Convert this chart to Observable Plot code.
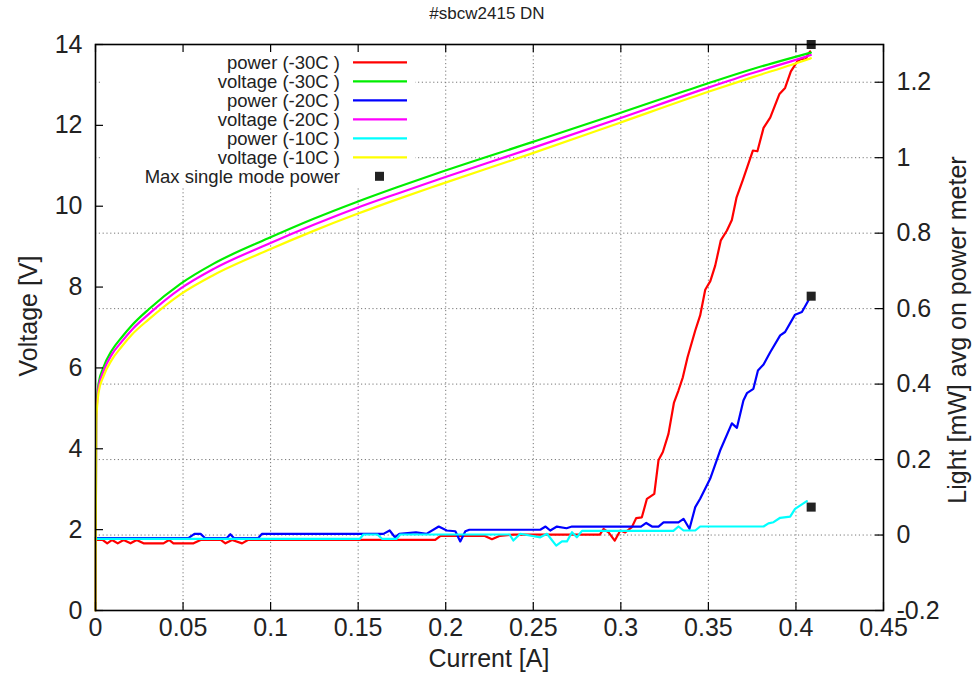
<!DOCTYPE html>
<html>
<head>
<meta charset="utf-8">
<script src="https://cdn.jsdelivr.net/npm/d3@7"></script>
<script src="https://cdn.jsdelivr.net/npm/@observablehq/plot@0.6"></script>
<style>
  html, body { margin: 0; padding: 0; background: white; overflow: hidden; }
</style>
</head>
<body>
<div id="chart"></div>
<script>
// ---------- data ----------
const title = "#sbcw2415 DN";
const xLabel = "Current [A]";
const yLabel = "Voltage [V]";
const y2Label = "Light [mW] avg on power meter";

const xTicks = [0, 0.05, 0.1, 0.15, 0.2, 0.25, 0.3, 0.35, 0.4, 0.45];
const vTicks = [0, 2, 4, 6, 8, 10, 12, 14];
const pTicks = [-0.2, 0, 0.2, 0.4, 0.6, 0.8, 1, 1.2];
const pDomain = [-0.2, 1.3];

// current [A] where the voltages were read
const currentV = [0, 0.0004, 0.001, 0.0017, 0.0046, 0.0093, 0.015, 0.0207, 0.0304, 0.0485, 0.0675, 0.0983, 0.1246, 0.1488, 0.1722, 0.1969, 0.2489, 0.2991, 0.3491, 0.3758, 0.3976, 0.4085];
const voltage30 = [0, 4.8, 5.3, 5.6, 6.02, 6.43, 6.76, 7.05, 7.45, 8.08, 8.58, 9.2, 9.69, 10.1, 10.47, 10.84, 11.58, 12.3, 13.03, 13.4, 13.67, 13.8];
const voltage20 = [0, 4.7, 5.2, 5.5, 5.92, 6.33, 6.65, 6.94, 7.33, 7.96, 8.45, 9.06, 9.54, 9.95, 10.31, 10.68, 11.43, 12.17, 12.92, 13.3, 13.59, 13.74];
const voltage10 = [0, 4.6, 5.1, 5.38, 5.8, 6.2, 6.53, 6.82, 7.2, 7.82, 8.3, 8.91, 9.39, 9.8, 10.17, 10.54, 11.3, 12.06, 12.82, 13.2, 13.5, 13.66];

// [current A, light mW]
const power30 = [[0,-0.013],[0.004,-0.013],[0.0067,-0.022],[0.0095,-0.013],[0.0127,-0.022],[0.016,-0.013],[0.02,-0.022],[0.0235,-0.013],[0.0274,-0.022],[0.0388,-0.022],[0.042,-0.013],[0.0445,-0.022],[0.056,-0.022],[0.06,-0.013],[0.0715,-0.013],[0.0742,-0.022],[0.078,-0.013],[0.0837,-0.022],[0.087,-0.013],[0.194,-0.013],[0.197,-0.002],[0.222,-0.002],[0.2264,-0.011],[0.231,-0.002],[0.2386,0.001],[0.288,0.001],[0.2901,0.016],[0.293,0.007],[0.2965,-0.015],[0.2997,0.012],[0.3025,0.007],[0.3063,0.021],[0.3088,0.045],[0.312,0.047],[0.3149,0.096],[0.3191,0.109],[0.3215,0.198],[0.324,0.22],[0.3272,0.268],[0.3303,0.35],[0.3329,0.383],[0.3354,0.418],[0.3381,0.471],[0.3425,0.542],[0.3453,0.582],[0.3482,0.65],[0.3511,0.673],[0.3539,0.714],[0.3571,0.781],[0.3606,0.807],[0.3634,0.835],[0.3661,0.895],[0.3697,0.941],[0.3754,1.019],[0.378,1.017],[0.3815,1.079],[0.3853,1.106],[0.3906,1.169],[0.3938,1.185],[0.3971,1.229],[0.4009,1.256],[0.4034,1.263],[0.4053,1.259],[0.4071,1.275],[0.4081,1.282]];
const power20 = [[0,-0.008],[0.053,-0.008],[0.0565,0.003],[0.06,0.003],[0.0625,-0.008],[0.075,-0.008],[0.077,0.002],[0.079,-0.008],[0.093,-0.008],[0.095,0.003],[0.1644,0.003],[0.168,0.012],[0.171,-0.006],[0.1735,0.003],[0.183,0.007],[0.189,0.003],[0.196,0.0225],[0.2006,0.012],[0.2055,0.01],[0.2083,-0.017],[0.2112,0.01],[0.2135,0.014],[0.254,0.014],[0.257,0.0225],[0.2597,0.012],[0.2635,0.0225],[0.269,0.018],[0.2721,0.0225],[0.3115,0.0225],[0.3145,0.032],[0.3178,0.0225],[0.3215,0.0225],[0.3244,0.0337],[0.3329,0.0337],[0.3358,0.043],[0.3392,0.0165],[0.3425,0.074],[0.3453,0.096],[0.351,0.149],[0.3567,0.224],[0.3634,0.296],[0.3663,0.284],[0.37,0.3565],[0.372,0.376],[0.3757,0.3875],[0.3783,0.436],[0.3815,0.452],[0.3853,0.4845],[0.391,0.529],[0.3938,0.538],[0.3995,0.584],[0.4034,0.591],[0.4071,0.6215]];
const power10 = [[0,-0.01],[0.151,-0.01],[0.153,0.0014],[0.161,0.0014],[0.1636,-0.01],[0.172,-0.01],[0.174,0.0014],[0.2365,0.0014],[0.2386,-0.0145],[0.2426,0.0033],[0.254,-0.006],[0.2578,0.0033],[0.2631,-0.028],[0.2664,-0.017],[0.2692,-0.017],[0.2721,0.0075],[0.2749,-0.006],[0.2778,0.011],[0.33,0.011],[0.3329,0.0226],[0.3358,0.012],[0.3425,0.012],[0.3453,0.0226],[0.3815,0.0226],[0.3843,0.031],[0.3872,0.034],[0.391,0.0457],[0.3967,0.049],[0.3995,0.0695],[0.4062,0.0897]];

const maxCurrent = [0.4087, 0.4087, 0.4087];
const maxPower = [1.3, 0.633, 0.074];

const legendLabels = ["power (-30C )", "voltage (-30C )", "power (-20C )", "voltage (-20C )", "power (-10C )", "voltage (-10C )", "Max single mode power"];
const colors = ["#ff0000", "#00ee00", "#0000ff", "#ff00ff", "#00ffff", "#ffff00"];

// ---------- helpers ----------
const FONT = "'Liberation Sans', Arial, Helvetica, sans-serif";
const W = 973, H = 673;
const mL = 95, mR = 90, mT = 44, mB = 63;
const xDomain = [0, 0.45], vDomain = [0, 14];
// map light (right axis) into the voltage scale
const toV = p => (p - pDomain[0]) / (pDomain[1] - pDomain[0]) * (vDomain[1] - vDomain[0]) + vDomain[0];
const tickLenX = 8 * (xDomain[1] - xDomain[0]) / (W - mL - mR);
const tickLenV = 8 * (vDomain[1] - vDomain[0]) / (H - mT - mB);

const vSeries = (vals) => currentV.map((c, i) => ({c, v: vals[i]}));
const pSeries = (arr) => arr.map(([c, p]) => ({c, v: toV(p)}));
const maxPts = maxCurrent.map((c, i) => ({c, v: toV(maxPower[i])}));

const gridX = xTicks.filter(d => d > xDomain[0] && d < xDomain[1]);
const gridP = pTicks.filter(d => d > pDomain[0] && d < pDomain[1]);

const legendBackground = () => {
  const g = d3.create("svg:g");
  g.append("rect").attr("x", 102).attr("y", 45).attr("width", 313).attr("height", 141).attr("fill", "white");
  return g.node();
};

const legendMark = () => {
  const g = d3.create("svg:g").attr("font-family", FONT);
  legendLabels.forEach((lab, i) => {
    const y = 62.3 + 19 * i;
    g.append("text").attr("x", 340).attr("y", y).attr("dy", "0.35em")
      .attr("text-anchor", "end").attr("font-size", 18.5).attr("fill", "#222").text(lab);
    if (i < colors.length) {
      g.append("line").attr("x1", 353).attr("x2", 407).attr("y1", y).attr("y2", y)
        .attr("stroke", colors[i]).attr("stroke-width", 2.2);
    } else {
      g.append("rect").attr("x", 375).attr("y", y - 4.5).attr("width", 9).attr("height", 9).attr("fill", "#222");
    }
  });
  return g.node();
};

const textMark = () => {
  const g = d3.create("svg:g").attr("font-family", FONT).attr("fill", "#222");
  g.append("text").attr("x", 487).attr("y", 19).attr("text-anchor", "middle").attr("font-size", 17).text(title);
  g.append("text").attr("x", 489).attr("y", 667).attr("text-anchor", "middle").attr("font-size", 25).text(xLabel);
  g.append("text").attr("transform", "translate(28,316) rotate(-90)").attr("dy", "0.35em")
    .attr("text-anchor", "middle").attr("font-size", 25).text(yLabel);
  g.append("text").attr("transform", "translate(957,330) rotate(-90)").attr("dy", "0.35em")
    .attr("text-anchor", "middle").attr("font-size", 25).text(y2Label);
  return g.node();
};

const lineOpts = (color) => ({x: "c", y: "v", stroke: color, strokeWidth: 2.2, strokeLinejoin: "round"});

const chart = Plot.plot({
  width: W, height: H,
  marginLeft: mL, marginRight: mR, marginTop: mT, marginBottom: mB,
  x: {domain: xDomain},
  y: {domain: vDomain},
  style: {fontFamily: FONT, background: "white", color: "#222"},
  marks: [
    Plot.ruleX(gridX, {x: d => d, stroke: "#777", strokeWidth: 1, strokeDasharray: "1.2,2.6"}),
    Plot.ruleY(gridP, {y: d => toV(d), stroke: "#777", strokeWidth: 1, strokeDasharray: "1.2,2.6"}),
    legendBackground,
    Plot.line(pSeries(power30), lineOpts(colors[0])),
    Plot.line(vSeries(voltage30), {...lineOpts(colors[1]), curve: "monotone-x"}),
    Plot.line(pSeries(power20), lineOpts(colors[2])),
    Plot.line(vSeries(voltage20), {...lineOpts(colors[3]), curve: "monotone-x"}),
    Plot.line(pSeries(power10), lineOpts(colors[4])),
    Plot.line(vSeries(voltage10), {...lineOpts(colors[5]), curve: "monotone-x"}),
    Plot.dot(maxPts, {x: "c", y: "v", symbol: "square", r: 5.1, fill: "#222", stroke: null}),
    legendMark,
    // inward ticks
    Plot.ruleX(xTicks, {x: d => d, y1: vDomain[0], y2: vDomain[0] + tickLenV, stroke: "#000", strokeWidth: 1.2}),
    Plot.ruleX(xTicks, {x: d => d, y1: vDomain[1] - tickLenV, y2: vDomain[1], stroke: "#000", strokeWidth: 1.2}),
    Plot.ruleY(vTicks, {y: d => d, x1: xDomain[0], x2: xDomain[0] + tickLenX, stroke: "#000", strokeWidth: 1.2}),
    Plot.ruleY(pTicks, {y: d => toV(d), x1: xDomain[1] - tickLenX, x2: xDomain[1], stroke: "#000", strokeWidth: 1.2}),
    Plot.frame({stroke: "#000", strokeWidth: 1.6}),
    Plot.axisX(xTicks, {tickSize: 0, tickPadding: 8, tickFormat: d => String(d), fontSize: 25, fill: "#222", label: null}),
    Plot.axisY(vTicks, {tickSize: 0, tickPadding: 13, tickFormat: d => String(d), fontSize: 25, fill: "#222", label: null}),
    Plot.text(pTicks, {frameAnchor: "right", y: d => toV(d), text: d => String(d), dx: 13, textAnchor: "start", fontSize: 25, fill: "#222"}),
    textMark
  ]
});
document.getElementById("chart").appendChild(chart);
</script>
</body>
</html>
